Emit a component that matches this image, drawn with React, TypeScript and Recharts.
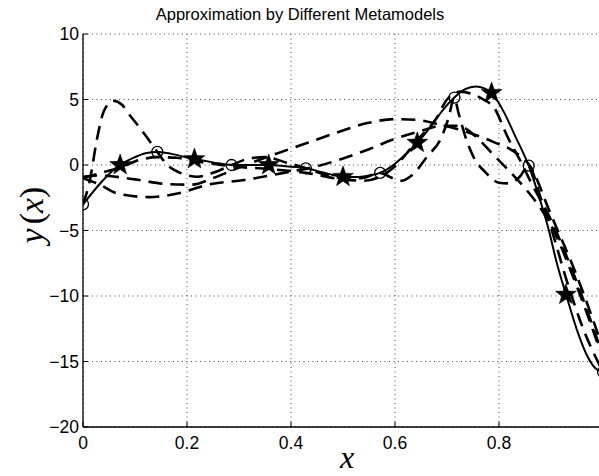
import React from 'react';
import { ComposedChart, Line, Scatter, XAxis, YAxis, CartesianGrid, ReferenceLine } from 'recharts';

const xTicks = [0, 0.2, 0.4, 0.6, 0.8, 1];
const xTickLabels = ['0', '0.2', '0.4', '0.6', '0.8', '1'];
const yTicks = [-20, -15, -10, -5, 0, 5, 10];
const yTickLabels = ['\u221220', '\u221215', '\u221210', '\u22125', '0', '5', '10'];

const titleText = 'Approximation by Different Metamodels';

// true function (solid)
const trueX = [0, 0.071, 0.1, 0.12, 0.143, 0.17, 0.214, 0.25, 0.286, 0.32, 0.357, 0.39, 0.429, 0.46, 0.5, 0.525, 0.55, 0.571, 0.6, 0.62, 0.643, 0.67, 0.69, 0.714, 0.735, 0.755, 0.772, 0.786, 0.81, 0.83, 0.857, 0.88, 0.896, 0.91, 0.929, 0.95, 0.97, 0.985, 1.0];
const trueY = [-3, 0.0, 0.6, 0.9, 1.0, 0.85, 0.45, 0.2, 0.0, 0.0, 0.0, -0.1, -0.25, -0.55, -0.9, -0.92, -0.8, -0.6, 0.1, 0.8, 1.7, 3.0, 4.1, 5.15, 5.8, 6.0, 5.85, 5.5, 4.0, 2.3, -0.05, -2.8, -5.0, -7.3, -9.9, -12.6, -14.6, -15.5, -15.8];

// interpolating metamodel (dashed)
const interpX = [0, 0.013, 0.027, 0.04, 0.058, 0.075, 0.09, 0.11, 0.125, 0.143, 0.162, 0.187, 0.22, 0.25, 0.286, 0.32, 0.35, 0.39, 0.429, 0.47, 0.5, 0.535, 0.571, 0.595, 0.612, 0.632, 0.663, 0.688, 0.703, 0.714, 0.722, 0.735, 0.75, 0.775, 0.8, 0.82, 0.84, 0.857, 0.88, 0.9, 0.93, 0.96, 1.0];
const interpY = [-3, -1.2, 2.0, 4.1, 4.9, 4.6, 3.8, 2.8, 2.0, 1.0, 0.0, -0.6, -0.9, -0.6, 0.0, 0.5, 0.6, 0.2, -0.25, -0.8, -1.0, -1.0, -0.6, -1.0, -1.2, -0.8, 0.7, 2.0, 3.6, 5.15, 4.0, 2.2, 0.7, -0.6, -1.35, -1.4, -0.9, -0.05, -2.5, -4.8, -8.8, -12.3, -15.8];

// smooth broad-hump metamodel (dashed)
const humpX = [0, 0.03, 0.1, 0.16, 0.21, 0.25, 0.3, 0.35, 0.418, 0.49, 0.547, 0.6, 0.64, 0.69, 0.74, 0.79, 0.83, 0.86, 0.9, 0.95, 1.0];
const humpY = [-0.9, -0.8, -1.1, -1.45, -1.5, -1.0, -0.2, 0.55, 1.5, 2.5, 3.2, 3.5, 3.45, 3.05, 2.5, 1.75, 1.0, -0.1, -3.8, -8.5, -14.0];

// low polynomial-like metamodel (dashed)
const polyX = [0, 0.027, 0.068, 0.126, 0.19, 0.24, 0.31, 0.386, 0.45, 0.5, 0.55, 0.6, 0.65, 0.69, 0.72, 0.76, 0.784, 0.823, 0.855, 0.9, 0.95, 1.0];
const polyY = [-1.0, -1.4, -2.2, -2.45, -2.1, -1.5, -1.15, -0.6, -0.1, 0.5, 1.2, 2.0, 2.6, 3.0, 3.0, 2.0, 1.0, -0.6, -2.0, -4.6, -9.3, -14.8];

// close-fitting metamodel (dashed)
const fitX = [0, 0.035, 0.071, 0.11, 0.143, 0.18, 0.214, 0.25, 0.286, 0.357, 0.429, 0.5, 0.54, 0.571, 0.6, 0.643, 0.68, 0.7, 0.726, 0.75, 0.77, 0.79, 0.817, 0.84, 0.86, 0.9, 0.95, 1.0];
const fitY = [-1.0, -0.6, -0.2, 0.4, 0.6, 0.55, 0.3, 0.1, -0.1, -0.3, -0.6, -1.1, -1.2, -0.9, -0.1, 1.9, 3.6, 5.0, 5.6, 5.4, 5.0, 4.4, 2.1, 0.4, -1.2, -4.2, -9.0, -14.6];

// sample points (circles) and test points (stars)
const sampleX = [0, 0.1429, 0.2857, 0.4286, 0.5714, 0.7143, 0.8571, 1.0];
const sampleY = [-3, 1.0, 0.0, -0.25, -0.6, 5.15, -0.05, -15.8];
const testX = [0.0714, 0.2143, 0.3571, 0.5, 0.6429, 0.7857, 0.9286];
const testY = [0.0, 0.45, 0.0, -0.9, 1.7, 5.5, -9.9];

const zip = (xs: number[], ys: number[]) => xs.map((x, i) => ({ x, y: ys[i] }));

const trueData = zip(trueX, trueY);
const interpData = zip(interpX, interpY);
const humpData = zip(humpX, humpY);
const polyData = zip(polyX, polyY);
const fitData = zip(fitX, fitY);
const sampleData = zip(sampleX, sampleY);
const testData = zip(testX, testY);

const sans = '"Liberation Sans", Arial, Helvetica, sans-serif';
const serif = '"Liberation Serif", "DejaVu Serif", serif';

const XTick = (props: any) => {
  const { x, y, payload } = props;
  const idx = xTicks.indexOf(payload.value);
  return (
    <g>
      <line x1={x} y1={y} x2={x} y2={y - 5} stroke="#000" strokeWidth={1} />
      <text x={x} y={y + 22} textAnchor="middle" fontSize={17.5} fontFamily={sans} fill="#000">
        {idx >= 0 ? xTickLabels[idx] : String(payload.value)}
      </text>
    </g>
  );
};

const TopTick = (props: any) => {
  const { x, y } = props;
  return <line x1={x} y1={y} x2={x} y2={y + 5} stroke="#000" strokeWidth={1} />;
};

const YTick = (props: any) => {
  const { x, y, payload } = props;
  const idx = yTicks.indexOf(payload.value);
  return (
    <g>
      <line x1={x} y1={y} x2={x + 5} y2={y} stroke="#000" strokeWidth={1} />
      <text x={x - 4} y={y + 6} textAnchor="end" fontSize={17.5} fontFamily={sans} fill="#000">
        {idx >= 0 ? yTickLabels[idx] : String(payload.value)}
      </text>
    </g>
  );
};

const starPath = (cx: number, cy: number, R: number, r: number) => {
  let d = '';
  for (let i = 0; i < 10; i++) {
    const ang = -Math.PI / 2 + (i * Math.PI) / 5;
    const rad = i % 2 === 0 ? R : r;
    const px = cx + rad * Math.cos(ang);
    const py = cy + rad * Math.sin(ang);
    d += (i === 0 ? 'M' : 'L') + px.toFixed(2) + ',' + py.toFixed(2);
  }
  return d + 'Z';
};

const StarShape = (props: any) => {
  const { cx, cy } = props;
  if (cx == null || cy == null) return <g />;
  return <path d={starPath(cx, cy, 11, 4.5)} fill="#000" stroke="#000" strokeWidth={0.5} />;
};

const CircleShape = (props: any) => {
  const { cx, cy } = props;
  if (cx == null || cy == null) return <g />;
  return <circle cx={cx} cy={cy} r={5.5} fill="none" stroke="#000" strokeWidth={1.3} />;
};

const dashProps = {
  type: 'monotone' as const,
  dataKey: 'y',
  stroke: '#000',
  strokeWidth: 2.6,
  strokeDasharray: '14 8',
  dot: false,
  activeDot: false,
  isAnimationActive: false,
};

export default function App() {
  return (
    <div style={{ position: 'absolute', left: 0, top: 0, width: 599, height: 476, overflow: 'hidden', background: '#fff' }}>
      <ComposedChart width={625} height={476} margin={{ top: 34, right: 22, bottom: 0, left: 0 }}>
        <CartesianGrid stroke="#444" strokeDasharray="1 3.5" strokeWidth={1} />
        <XAxis
          dataKey="x"
          type="number"
          domain={[0, 1]}
          ticks={xTicks}
          height={49}
          tickSize={0}
          tickMargin={0}
          tickLine={false}
          axisLine={{ stroke: '#000', strokeWidth: 1.3 }}
          tick={<XTick />}
          allowDataOverflow
        />
        <XAxis
          xAxisId="top"
          orientation="top"
          type="number"
          domain={[0, 1]}
          ticks={xTicks}
          height={0}
          tickSize={0}
          tickMargin={0}
          tickLine={false}
          axisLine={{ stroke: '#000', strokeWidth: 1.3 }}
          tick={<TopTick />}
        />
        <YAxis
          dataKey="y"
          type="number"
          domain={[-20, 10]}
          ticks={yTicks}
          width={83}
          tickSize={0}
          tickMargin={0}
          tickLine={false}
          axisLine={{ stroke: '#000', strokeWidth: 1.3 }}
          tick={<YTick />}
          allowDataOverflow
        />
        <ReferenceLine x={1} stroke="#000" strokeWidth={1.3} />
        <Line data={humpData} {...dashProps} />
        <Line data={polyData} {...dashProps} />
        <Line data={fitData} {...dashProps} />
        <Line data={interpData} {...dashProps} />
        <Line data={trueData} type="monotone" dataKey="y" stroke="#000" strokeWidth={2} dot={false} activeDot={false} isAnimationActive={false} />
        <Scatter data={sampleData} dataKey="y" shape={<CircleShape />} isAnimationActive={false} />
        <Scatter data={testData} dataKey="y" shape={<StarShape />} isAnimationActive={false} />
      </ComposedChart>
      <svg width={599} height={476} style={{ position: 'absolute', left: 0, top: 0, pointerEvents: 'none' }}>
        <text x={300} y={20} textAnchor="middle" fontSize={16.5} fontFamily={sans} fill="#000">
          {titleText}
        </text>
        <text transform="translate(31,215) rotate(-90)" textAnchor="middle" dominantBaseline="central" fontSize={34} fontFamily={serif} fill="#000">
          <tspan fontStyle="italic">y</tspan>
          <tspan dx={4}>(</tspan>
          <tspan fontStyle="italic">x</tspan>
          <tspan>)</tspan>
        </text>
        <text x={347} y={468} textAnchor="middle" fontSize={32} fontFamily={serif} fontStyle="italic" fill="#000">
          x
        </text>
      </svg>
    </div>
  );
}
